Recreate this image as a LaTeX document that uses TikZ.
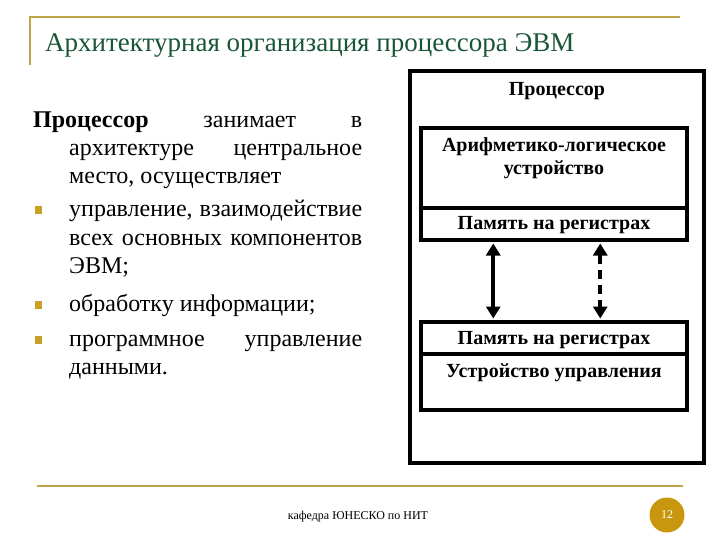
\documentclass[tikz,border=0pt]{standalone}
\usepackage{fontspec}
\setmainfont{Liberation Serif}
\usetikzlibrary{arrows.meta,calc}
\definecolor{goldline}{RGB}{190,165,70}
\definecolor{goldcirc}{RGB}{200,150,15}
\definecolor{goldbul}{RGB}{200,160,40}
\definecolor{titlegreen}{RGB}{25,85,55}
\tikzset{
  txt/.style={inner sep=0pt, font=\fontsize{24}{28}\selectfont, anchor=base west},
  bul/.style={fill=goldbul, inner sep=0pt, minimum size=7.5pt},
  blk/.style={draw, line width=3.5pt, inner sep=0pt, minimum width=266pt},
  lbl/.style={inner sep=0pt, font=\fontsize{20}{23}\selectfont\bfseries, align=center},
  arr/.style={line width=4pt, {Triangle[width=14pt,length=12pt]}-{Triangle[width=14pt,length=12pt]}, shorten <=1.75pt, shorten >=1.75pt},
}
\begin{document}
\begin{tikzpicture}[x=1pt,y=-1pt]
\useasboundingbox (0,0) rectangle (720,540);
% header decoration
\coordinate (tl) at (30,17);
\coordinate (tr) at (680,17);
\coordinate (tb) at (30,65);
\draw[goldline, line width=2.5pt] (tr) -- (tl) -- (tb);
\node[inner sep=0pt, anchor=base west, text=titlegreen, font=\fontsize{27}{30}\selectfont] (title) at (45,52) {Архитектурная организация процессора ЭВМ};
% left text
\node[txt] (p1) at (33,128) {\makebox[329pt][s]{\textbf{Процессор} занимает в}};
\node[txt] (p2) at (69,156) {\makebox[293pt][s]{архитектуре центральное}};
\node[txt] (p3) at (69,184) {место, осуществляет};
\node[txt] (p4) at (69,217) {\makebox[293pt][s]{управление, взаимодействие}};
\node[txt] (p5) at (69,245) {\makebox[293pt][s]{всех основных компонентов}};
\node[txt] (p6) at (69,273) {ЭВМ;};
\node[txt] (p7) at (69,311) {обработку информации;};
\node[txt] (p8) at (69,346) {\makebox[293pt][s]{программное управление}};
\node[txt] (p9) at (69,374) {данными.};
\node[bul] (b1) at (38.5,210) {};
\node[bul] (b2) at (38.5,305) {};
\node[bul] (b3) at (38.5,340) {};
% processor diagram
\node[draw, line width=3.5pt, minimum width=294pt, minimum height=392pt, inner sep=0pt] (proc) at (557,267) {};
\node[lbl] (proct) at (557,91) {Процессор};
\node[blk, minimum height=80pt] (alu) at (554,168) {};
\node[lbl] (alut) at (554,158) {Арифметико-логическое\\устройство};
\node[blk, minimum height=32pt] (reg1) at (554,224) {};
\node[lbl] (reg1t) at (554,225) {Память на регистрах};
\node[blk, minimum height=32pt] (reg2) at (554,338) {};
\node[lbl] (reg2t) at (554,340) {Память на регистрах};
\node[blk, minimum height=56pt] (cu) at (554,382) {};
\node[lbl] (cut) at (554,373) {Устройство управления};
\draw[arr] ([xshift=74pt]reg1.south west) -- ([xshift=74pt]reg2.north west);
\draw[arr, dash pattern=on 9pt off 6pt] ([xshift=181pt]reg1.south west) -- ([xshift=181pt]reg2.north west);
% footer
\coordinate (bl) at (37,486);
\coordinate (br) at (683,486);
\draw[goldline, line width=2.5pt] (bl) -- (br);
\node[inner sep=0pt, font=\fontsize{12}{14}\selectfont] (foot) at (358,517) {кафедра ЮНЕСКО по НИТ};
\node[circle, fill=goldcirc, minimum size=35pt, inner sep=0pt, text=white, font=\fontsize{12}{14}\selectfont] (page) at (667,515) {12};
\end{tikzpicture}
\end{document}
